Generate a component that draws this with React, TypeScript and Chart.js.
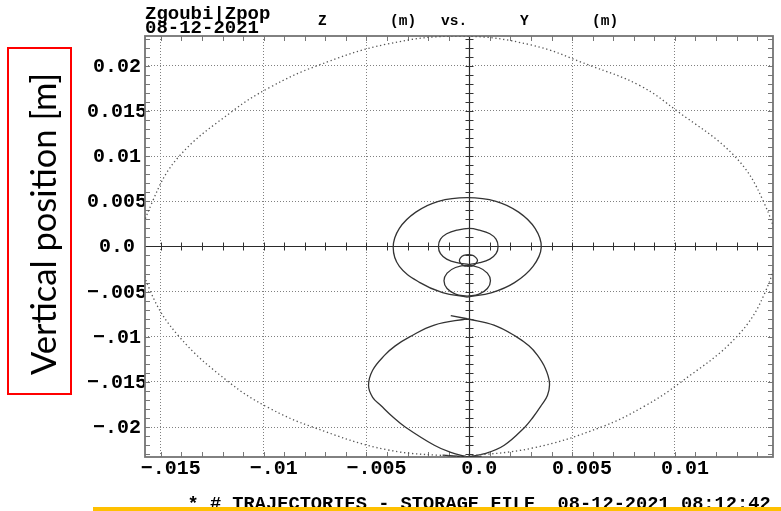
import React, { useEffect, useRef } from 'react';
import { Chart, registerables } from 'chart.js';

Chart.register(...registerables);

// Plot window in metres: horizontal Y, vertical Z
const Y_MIN = -0.01577;
const Y_MAX = 0.01477;
const Z_MIN = -0.0233;
const Z_MAX = 0.02329;

const Y_TICKS = [-0.015, -0.01, -0.005, 0, 0.005, 0.01];
const Y_TICK_LABELS = ['\u2212.015', '\u2212.01', '\u2212.005', '0.0', '0.005', '0.01'];
const Z_TICKS = [-0.02, -0.015, -0.01, -0.005, 0, 0.005, 0.01, 0.015, 0.02];
const Z_TICK_LABELS = ['\u2212.02', '\u2212.015', '\u2212.01', '\u2212.005', '0.0', '0.005', '0.01', '0.015', '0.02'];

// Dotted acceptance envelope (starts and ends at the bottom, goes round clockwise)
const ENVELOPE_Y = [-0.0004, -0.004, -0.0076, -0.0098, -0.0117, -0.0141, -0.0155, -0.016, -0.0154, -0.0141, -0.0115, -0.0097, -0.0074, -0.004, -0.0004, 0.003, 0.0059, 0.0083, 0.0101, 0.0129, 0.0143, 0.0149, 0.0144, 0.013, 0.0103, 0.0085, 0.0064, 0.0031, -0.0004];
const ENVELOPE_Z = [-0.02328, -0.0225, -0.02, -0.0178, -0.015, -0.01, -0.005, 0, 0.005, 0.01, 0.015, 0.0176, 0.02, 0.0224, 0.02327, 0.0223, 0.02, 0.0178, 0.015, 0.01, 0.005, 0, -0.005, -0.01, -0.015, -0.0177, -0.02, -0.0223, -0.02328];

// Outer loop around the origin
const LOOP_A_Y = [-0.0001, -0.0013, -0.0024, -0.0034, -0.0037, -0.0034, -0.0026, -0.0015, -0.0001, 0.0013, 0.0024, 0.0032, 0.0035, 0.0031, 0.0022, 0.0011, -0.0001];
const LOOP_A_Z = [-0.0056, -0.0051, -0.004, -0.0022, -0.0001, 0.002, 0.0038, 0.005, 0.0054, 0.005, 0.0038, 0.002, -0.0001, -0.0022, -0.004, -0.0051, -0.0056];

// Inner loop around the origin
const LOOP_B_Y = [0, -0.0006, -0.0011, -0.0014, -0.0015, -0.0014, -0.0011, -0.0006, 0, 0.0005, 0.001, 0.0013, 0.0014, 0.0013, 0.001, 0.0005, 0];
const LOOP_B_Z = [-0.002, -0.0018, -0.0014, -0.0008, 0, 0.0008, 0.0014, 0.0018, 0.002, 0.0018, 0.0014, 0.0008, 0, -0.0008, -0.0014, -0.0018, -0.002];

// Small loop just below the origin
const LOOP_C_Y = [-0.00005, -0.00027, -0.00042, -0.00048, -0.00042, -0.00027, -0.00005, 0.00017, 0.00032, 0.0004, 0.00032, 0.00017, -0.00005];
const LOOP_C_Z = [-0.0022, -0.00211, -0.00188, -0.00155, -0.00123, -0.00099, -0.0009, -0.00099, -0.00123, -0.00155, -0.00188, -0.00211, -0.0022];

// Loop under the small one
const LOOP_D_Y = [-0.0001, -0.00067, -0.00108, -0.00123, -0.00108, -0.00067, -0.0001, 0.00047, 0.00088, 0.00103, 0.00088, 0.00047, -0.0001];
const LOOP_D_Z = [-0.0055, -0.00527, -0.00465, -0.0038, -0.00295, -0.00233, -0.0021, -0.00233, -0.00295, -0.0038, -0.00465, -0.00527, -0.0055];

// Lower lens-shaped orbit, right and left halves
const LOOP_E_RIGHT_Y = [-0.0001, 0.0012, 0.0023, 0.0029, 0.0033, 0.0037, 0.0039, 0.0038, 0.0035, 0.0031, 0.0027, 0.0017, 0.0008, -0.0001];
const LOOP_E_RIGHT_Z = [-0.008, -0.0087, -0.01, -0.011, -0.012, -0.0135, -0.0151, -0.0165, -0.0176, -0.0189, -0.02, -0.022, -0.0229, -0.0233];
const LOOP_E_LEFT_Y = [-0.0001, -0.0017, -0.0029, -0.0036, -0.0041, -0.0047, -0.0049, -0.0047, -0.0043, -0.0037, -0.0031, -0.0017, -0.0009, -0.0001];
const LOOP_E_LEFT_Z = [-0.008, -0.0087, -0.01, -0.011, -0.012, -0.0137, -0.0154, -0.0167, -0.0176, -0.0189, -0.02, -0.022, -0.0228, -0.0233];

const TAIL_TOP_Y = [-0.0009, -0.0001];
const TAIL_TOP_Z = [-0.00765, -0.008];
const TAIL_BOTTOM_Y = [-0.0013, -0.0001, 0.0006];
const TAIL_BOTTOM_Z = [-0.0231, -0.0233, -0.0233];

const MONO = '"Liberation Mono", "DejaVu Sans Mono", monospace';
const MINOR = 0.001;

const zip = (ys: number[], zs: number[]) => ys.map((v, i) => ({ x: v, y: zs[i] }));

const labelFor = (ticks: number[], labels: string[], v: number) => {
  const i = ticks.findIndex((t) => Math.abs(t - v) < 1e-9);
  return i >= 0 ? labels[i] : '';
};

// Frame, minor ticks and the solid zero axes with their cross ticks
const framePlugin = {
  id: 'zgoubiFrame',
  beforeDatasetsDraw(chart: any) {
    const { ctx, chartArea: a, scales } = chart;
    const sx = scales.x;
    const sy = scales.y;
    const snap = (p: number) => Math.round(p) + 0.5;
    ctx.save();

    // frame ticks
    ctx.strokeStyle = '#777777';
    ctx.lineWidth = 1;
    ctx.beginPath();
    for (let k = Math.ceil(Y_MIN / MINOR - 1e-9); k <= Math.floor(Y_MAX / MINOR + 1e-9); k++) {
      const px = snap(sx.getPixelForValue(k * MINOR));
      ctx.moveTo(px, a.top);
      ctx.lineTo(px, a.top + 5);
      ctx.moveTo(px, a.bottom);
      ctx.lineTo(px, a.bottom - 5);
    }
    for (let k = Math.ceil(Z_MIN / MINOR - 1e-9); k <= Math.floor(Z_MAX / MINOR + 1e-9); k++) {
      const py = snap(sy.getPixelForValue(k * MINOR));
      ctx.moveTo(a.left, py);
      ctx.lineTo(a.left + 5, py);
      ctx.moveTo(a.right, py);
      ctx.lineTo(a.right - 5, py);
    }
    ctx.stroke();

    // zero axes
    const x0 = snap(sx.getPixelForValue(0));
    const y0 = snap(sy.getPixelForValue(0));
    ctx.strokeStyle = '#2a2a2a';
    ctx.lineWidth = 1.2;
    ctx.beginPath();
    ctx.moveTo(a.left, y0);
    ctx.lineTo(a.right, y0);
    ctx.moveTo(x0, a.top);
    ctx.lineTo(x0, a.bottom);
    ctx.stroke();

    ctx.lineWidth = 1;
    ctx.strokeStyle = '#333333';
    ctx.beginPath();
    for (let k = Math.ceil(Y_MIN / MINOR - 1e-9); k <= Math.floor(Y_MAX / MINOR + 1e-9); k++) {
      const px = snap(sx.getPixelForValue(k * MINOR));
      ctx.moveTo(px, y0 - 4);
      ctx.lineTo(px, y0 + 4);
    }
    for (let k = Math.ceil(Z_MIN / MINOR - 1e-9); k <= Math.floor(Z_MAX / MINOR + 1e-9); k++) {
      const py = snap(sy.getPixelForValue(k * MINOR));
      ctx.moveTo(x0 - 4, py);
      ctx.lineTo(x0 + 4, py);
    }
    ctx.stroke();

    // outer frame
    ctx.strokeStyle = '#747474';
    ctx.lineWidth = 1.8;
    ctx.strokeRect(a.left, a.top, a.right - a.left, a.bottom - a.top);
    ctx.restore();
  },
};

const trajectory = (ys: number[], zs: number[], tension = 0.4) => ({
  data: zip(ys, zs),
  showLine: true,
  borderColor: '#333333',
  borderWidth: 1.3,
  pointRadius: 0,
  tension,
  fill: false,
});

export default function App() {
  const ref = useRef<HTMLCanvasElement>(null);

  useEffect(() => {
    const canvas = ref.current;
    if (!canvas) return;
    const chart = new Chart(canvas, {
      type: 'scatter',
      data: {
        datasets: [
          {
            data: zip(ENVELOPE_Y, ENVELOPE_Z),
            showLine: true,
            borderColor: '#555555',
            borderWidth: 1.3,
            borderDash: [1.3, 2.7],
            pointRadius: 0,
            tension: 0.4,
            fill: false,
          },
          trajectory(LOOP_A_Y, LOOP_A_Z),
          trajectory(LOOP_B_Y, LOOP_B_Z),
          trajectory(LOOP_C_Y, LOOP_C_Z),
          trajectory(LOOP_D_Y, LOOP_D_Z),
          trajectory(LOOP_E_RIGHT_Y, LOOP_E_RIGHT_Z),
          trajectory(LOOP_E_LEFT_Y, LOOP_E_LEFT_Z),
          trajectory(TAIL_TOP_Y, TAIL_TOP_Z, 0),
          trajectory(TAIL_BOTTOM_Y, TAIL_BOTTOM_Z, 0),
        ] as any,
      },
      options: {
        animation: false,
        responsive: false,
        devicePixelRatio: 1,
        events: [],
        layout: { padding: { top: 36, right: 8, left: 0, bottom: 0 } },
        plugins: {
          legend: { display: false },
          tooltip: { enabled: false },
          title: { display: false },
        },
        scales: {
          x: {
            type: 'linear',
            min: Y_MIN,
            max: Y_MAX,
            afterFit: (s: any) => {
              s.height = 54;
            },
            afterBuildTicks: (s: any) => {
              s.ticks = Y_TICKS.map((v) => ({ value: v }));
            },
            ticks: {
              callback: (v: any) => labelFor(Y_TICKS, Y_TICK_LABELS, Number(v)),
              font: { family: MONO, size: 20, weight: 'bold' },
              color: '#000',
              padding: 0,
              labelOffset: 10,
              maxRotation: 0,
              autoSkip: false,
            },
            grid: {
              color: (c: any) => (c.tick && Math.abs(c.tick.value) < 1e-12 ? 'rgba(0,0,0,0)' : '#808080'),
              drawTicks: false,
              lineWidth: 1,
            },
            border: { display: false, dash: [1, 2] },
          },
          y: {
            type: 'linear',
            min: Z_MIN,
            max: Z_MAX,
            afterFit: (s: any) => {
              s.width = 145;
            },
            afterBuildTicks: (s: any) => {
              s.ticks = Z_TICKS.map((v) => ({ value: v }));
            },
            ticks: {
              callback: (v: any) => labelFor(Z_TICKS, Z_TICK_LABELS, Number(v)),
              font: { family: MONO, size: 20, weight: 'bold' },
              color: '#000',
              padding: -2,
              crossAlign: 'center',
              labelOffset: 1,
              autoSkip: false,
            },
            grid: {
              color: (c: any) => (c.tick && Math.abs(c.tick.value) < 1e-12 ? 'rgba(0,0,0,0)' : '#808080'),
              drawTicks: false,
              lineWidth: 1,
            },
            border: { display: false, dash: [1, 2] },
          },
        },
      } as any,
      plugins: [framePlugin],
    });
    return () => chart.destroy();
  }, []);

  const mono = (size: number): React.CSSProperties => ({
    position: 'absolute',
    fontFamily: MONO,
    fontWeight: 'bold',
    fontSize: size,
    lineHeight: 1,
    whiteSpace: 'pre',
    color: '#000',
  });

  return (
    <div style={{ position: 'absolute', left: 0, top: 0, width: 781, height: 511, overflow: 'hidden', background: '#fff' }}>
      <canvas ref={ref} width={781} height={511} style={{ position: 'absolute', left: 0, top: 0, width: 781, height: 511 }} />
      <div style={{ ...mono(19), left: 145, top: 5.4 }}>Zgoubi|Zpop</div>
      <div style={{ ...mono(19), left: 145, top: 19.4 }}>08-12-2021</div>
      <div style={{ ...mono(14.5), left: 318, top: 13.9 }}>Z</div>
      <div style={{ ...mono(14.5), left: 390, top: 13.9 }}>(m)</div>
      <div style={{ ...mono(14.5), left: 441, top: 13.9 }}>vs.</div>
      <div style={{ ...mono(14.5), left: 520, top: 13.9 }}>Y</div>
      <div style={{ ...mono(14.5), left: 592, top: 13.9 }}>(m)</div>
      <div style={{ ...mono(18.7), left: 187.5, top: 494.7 }}>* # TRAJECTORIES - STORAGE FILE  08-12-2021 08:12:42</div>
      <div style={{ position: 'absolute', left: 92.5, top: 506.7, width: 700, height: 6, background: '#FFC000' }} />
      <div
        style={{
          position: 'absolute',
          left: 7,
          top: 47,
          width: 65,
          height: 348,
          boxSizing: 'border-box',
          border: '2px solid #ff0000',
        }}
      />
      <div
        style={{
          position: 'absolute',
          left: 43,
          top: 224,
          transform: 'translate(-50%, -50%) rotate(-90deg)',
          fontFamily: 'Lato, "Open Sans", sans-serif',
          fontSize: 34.5,
          lineHeight: 1,
          whiteSpace: 'nowrap',
          color: '#000',
        }}
      >
        Vertical position [m]
      </div>
    </div>
  );
}
